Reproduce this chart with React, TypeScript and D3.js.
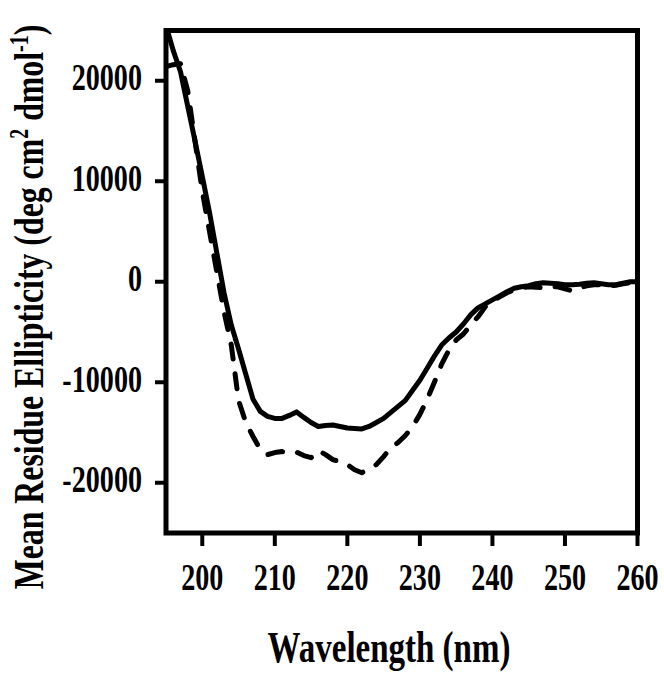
import React from "react";
import * as d3 from "d3";

const wavelengths: number[] = [
  195, 196, 197, 198, 199, 200, 201, 202, 203, 204, 205, 206, 207, 208, 209, 210,
  211, 212, 213, 214, 215, 216, 217, 218, 219, 220, 221, 222, 223, 224, 225, 226,
  227, 228, 229, 230, 231, 232, 233, 234, 235, 236, 237, 238, 239, 240, 241, 242,
  243, 244, 245, 246, 247, 248, 249, 250, 251, 252, 253, 254, 255, 256, 257, 258,
  259, 260,
];

const solidSeries: number[] = [
  25500, 23000, 20900, 17450, 14000, 10500, 6900, 2900, -1100, -4300, -6700, -9200, -11700, -12900, -13400, -13600,
  -13600, -13300, -12950, -13500, -14000, -14400, -14300, -14250, -14400, -14550, -14600, -14650, -14400, -14000, -13600, -13000,
  -12400, -11800, -10800, -9800, -8600, -7400, -6300, -5600, -5000, -4200, -3300, -2600, -2200, -1800, -1400, -1000,
  -650, -500, -400, -200, -100, -150, -200, -300, -300, -250, -150, -100, -200, -300, -300, -150,
  0, 0,
];

const dashedSeries: number[] = [
  21400, 21600, 21700, 19000, 14000, 9000, 5000, 1000, -3000, -6300, -11800, -14000, -15400, -16700, -17200, -17000,
  -16900, -17000, -16950, -17300, -17500, -16800, -17200, -17700, -17900, -18200, -18700, -19000, -18600, -18200, -17400, -16500,
  -16000, -15300, -14400, -13200, -11700, -10000, -8200, -6800, -5800, -5200, -4300, -3500, -2500, -1900, -1500, -1100,
  -800, -600, -500, -550, -600, -500, -500, -700, -900, -600, -400, -300, -300, -450, -350, -200,
  -100, 0,
];

const xTicks: number[] = [200, 210, 220, 230, 240, 250, 260];
const yTicks: number[] = [20000, 10000, 0, -10000, -20000];

const FONT = '"Liberation Serif", "Times New Roman", serif';

export default function App() {
  const left = 166;
  const right = 637.5;
  const top = 30.5;
  const bottom = 533;

  const x = d3.scaleLinear().domain([195, 260]).range([left, right]);
  const y = d3.scaleLinear().domain([-25000, 25000]).range([bottom, top]);

  const line = d3
    .line<number>()
    .x((_, i) => x(wavelengths[i]))
    .y((d) => y(d))
    .curve(d3.curveLinear);

  const cond = 0.76;

  return (
    <svg width={664} height={674} style={{ position: "absolute", left: 0, top: 0, background: "#fff" }}>
      <defs>
        <clipPath id="plotclip">
          <rect x={left} y={top} width={right - left} height={bottom - top} />
        </clipPath>
      </defs>
      <rect x={0} y={0} width={664} height={674} fill="#fff" />
      <g clipPath="url(#plotclip)">
        <path d={line(dashedSeries) || ""} fill="none" stroke="#000" strokeWidth={5}
          strokeDasharray="15,15" strokeLinecap="round" strokeLinejoin="round" />
        <path d={line(solidSeries) || ""} fill="none" stroke="#000" strokeWidth={5}
          strokeLinejoin="round" />
      </g>
      <rect x={left} y={top} width={right - left} height={bottom - top} fill="none" stroke="#000" strokeWidth={5} />
      {yTicks.map((t) => (
        <g key={"y" + t}>
          <line x1={left - 11} x2={left} y1={y(t)} y2={y(t)} stroke="#000" strokeWidth={4} />
          <text transform={`translate(${142},${y(t) + 9.5}) scale(${cond},1)`} textAnchor="end"
            fontFamily={FONT} fontWeight="bold" fontSize={37} fill="#000">{t}</text>
        </g>
      ))}
      {xTicks.map((t) => (
        <g key={"x" + t}>
          <line x1={x(t)} x2={x(t)} y1={bottom} y2={bottom + 13} stroke="#000" strokeWidth={4} />
          <text transform={`translate(${x(t)},${590}) scale(${cond},1)`} textAnchor="middle"
            fontFamily={FONT} fontWeight="bold" fontSize={37} fill="#000">{t}</text>
        </g>
      ))}
      <text transform={`translate(389,662) scale(0.75,1)`} textAnchor="middle"
        fontFamily={FONT} fontWeight="bold" fontSize={44} fill="#000">Wavelength (nm)</text>
      <text transform={`translate(43,307) rotate(-90) scale(0.74,1)`} textAnchor="middle"
        fontFamily={FONT} fontWeight="bold" fontSize={43} fill="#000">
        Mean Residue Ellipticity (deg cm<tspan dy={-15} fontSize={27}>2</tspan>
        <tspan dy={15}> dmol</tspan><tspan dy={-15} fontSize={27}>-1</tspan><tspan dy={15}>)</tspan>
      </text>
    </svg>
  );
}
